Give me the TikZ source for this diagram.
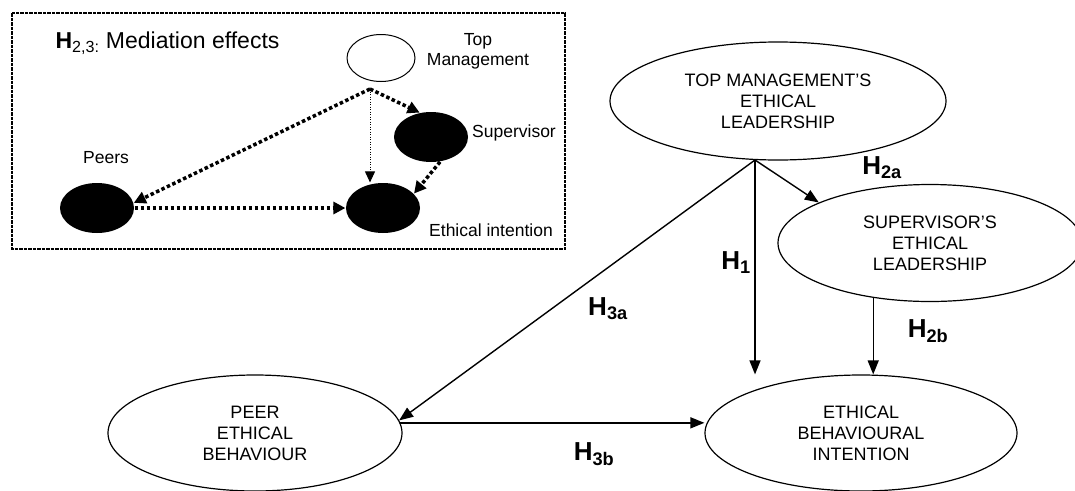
\documentclass[tikz,border=0pt]{standalone}
\usepackage{fontspec}
\setmainfont{Liberation Sans}
\usetikzlibrary{shapes.geometric,arrows.meta}

\tikzset{every picture/.style={line width=1.2pt}}
\tikzset{
  construct/.style={draw,ellipse,inner sep=0pt,align=center,font=\fontsize{18}{21}\selectfont},
  hyp/.style={inner sep=0pt,font=\fontsize{26}{30}\selectfont\bfseries},
  patharrow/.style={line width=1.4pt,-{Triangle[length=14pt,width=11pt]}},
  blob/.style={ellipse,fill=black,inner sep=0pt,minimum width=74pt,minimum height=50pt},
  smalltext/.style={inner sep=0pt,align=center,font=\fontsize{17.5}{20}\selectfont},
  medarrow/.style={line width=3.5pt,dash pattern=on 3.5pt off 2.5pt,-{Triangle[length=12pt,width=12pt]}},
  thinmed/.style={line width=1pt,dash pattern=on 1pt off 1.5pt,-{Triangle[length=11pt,width=10pt]}},
  insetframe/.style={line width=2.5pt,dash pattern=on 3.5pt off 1pt}
}

\begin{document}
\begin{tikzpicture}[x=1pt,y=-1pt]
  \useasboundingbox (0,0) rectangle (1075,490);

  % inset
  \draw[insetframe] (12,13) rectangle (565,249);
  \node[anchor=west,inner sep=0pt,font=\fontsize{23}{26}\selectfont] (title) at (55,43)
    {\textbf{H}\textsubscript{2,3:} Mediation effects};
  \node[draw,ellipse,line width=1pt,inner sep=0pt,minimum width=68pt,minimum height=47pt] (itm) at (381,58) {};
  \node[blob] (isup) at (431,137) {};
  \node[blob] (iei) at (383,208) {};
  \node[blob] (ipeer) at (97,208) {};
  \node[smalltext] (ltm) at (478,51) {Top\\Management};
  \node[smalltext] (lsup) at (514,133) {Supervisor};
  \node[smalltext] (lei) at (491,230) {Ethical intention};
  \node[smalltext] (lpeer) at (106,158) {Peers};
  \coordinate (ifork) at (370,89);
  \draw[medarrow] (ifork) -- (ipeer.8);
  \draw[medarrow] (ifork) -- (isup.115);
  \draw[thinmed] (ifork) -- (ifork |- iei.north);
  \draw[medarrow] (isup.290) -- (iei.25);
  \draw[medarrow] (ipeer.east) -- (iei.west);

  % model
  \node[construct,minimum width=336pt,minimum height=118pt] (tm) at (778,101) {TOP MANAGEMENT'S\\ETHICAL\\LEADERSHIP};
  \node[construct,minimum width=304pt,minimum height=117pt] (sup) at (930,243) {SUPERVISOR'S\\ETHICAL\\LEADERSHIP};
  \node[construct,minimum width=294pt,minimum height=116pt] (peer) at (255,433) {PEER\\ETHICAL\\BEHAVIOUR};
  \node[construct,minimum width=312pt,minimum height=116pt] (ebi) at (861,433) {ETHICAL\\BEHAVIOURAL\\INTENTION};
  \coordinate (fork) at (755,160);
  \draw[patharrow] (fork) -- (peer.5);
  \draw[patharrow] (fork) -- (fork |- ebi.north);
  \draw[patharrow] (fork) -- (sup.160);
  \draw[patharrow] (sup.224) -- (sup.224 |- ebi.north);
  \draw[patharrow] (peer.4) -- (peer.4 -| ebi.west);

  \node[hyp] (h1) at (736,263) {H\textsubscript{1}};
  \node[hyp] (h2a) at (882,168) {H\textsubscript{2a}};
  \node[hyp] (h2b) at (928,331) {H\textsubscript{2b}};
  \node[hyp] (h3a) at (608,309) {H\textsubscript{3a}};
  \node[hyp] (h3b) at (594,454) {H\textsubscript{3b}};
\end{tikzpicture}
\end{document}
